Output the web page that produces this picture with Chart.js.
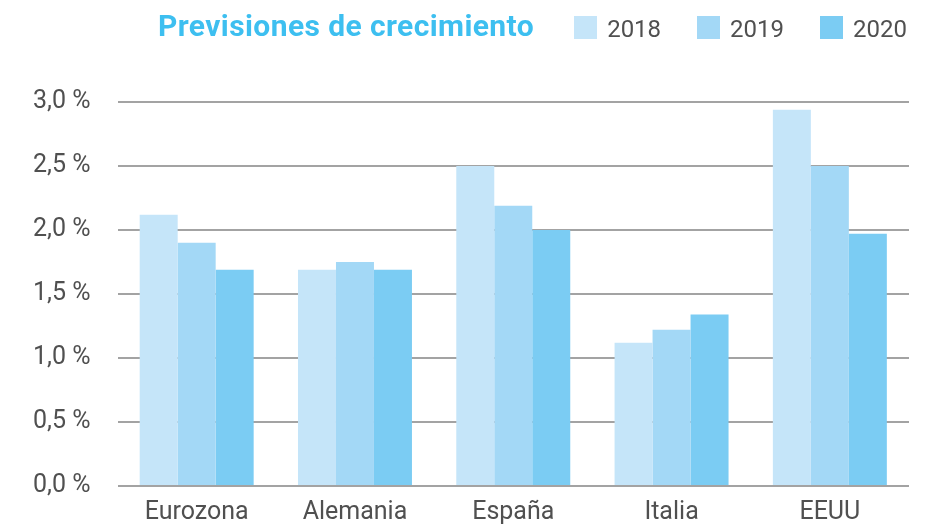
<!DOCTYPE html>
<html>
<head>
<meta charset="utf-8">
<script src="https://cdn.jsdelivr.net/npm/chart.js@4.4.1/dist/chart.umd.min.js"></script>
<style>
    body { margin: 0; background: #fff; font-family: Roboto, sans-serif; }
    #wrap { position: relative; width: 950px; height: 524px; overflow: hidden; }
    #holder { position: absolute; left: 0; top: 0; width: 950px; height: 540px; }
    #title {
        position: absolute; left: 158px; top: 11px;
        font-size: 30px; line-height: 30px; font-weight: 700;
        letter-spacing: 0.4px; color: #3dbff0;
    }
    #legend {
        position: absolute; right: 43px; top: 16px;
        display: flex; align-items: center;
    }
    .item { display: flex; align-items: center; margin-left: 36px; }
    .item:first-child { margin-left: 0; }
    .box { width: 23px; height: 23px; margin-right: 10px; }
    .lbl { font-size: 24px; line-height: 23px; color: #505050; position: relative; top: 2px; }
</style>
</head>
<body>
<div id="wrap">
    <div id="holder"><canvas id="myChart"></canvas></div>
    <div id="title">Previsiones de crecimiento</div>
    <div id="legend"></div>
</div>
<script>
const categories = ['Eurozona', 'Alemania', 'España', 'Italia', 'EEUU'];
const years = ['2018', '2019', '2020'];
const values2018 = [2.12, 1.69, 2.5, 1.12, 2.94];
const values2019 = [1.9, 1.75, 2.19, 1.22, 2.5];
const values2020 = [1.69, 1.69, 2.0, 1.34, 1.97];
const colors = ['#c5e5f9', '#a3d8f6', '#7bccf3'];

(() => {
    Chart.defaults.font.family = 'Roboto';
    Chart.defaults.color = '#505050';

    const series = [values2018, values2019, values2020];

    const legend = document.getElementById('legend');
    years.forEach((y, i) => {
        const item = document.createElement('div');
        item.className = 'item';
        item.innerHTML = '<div class="box" style="background:' + colors[i] + '"></div><span class="lbl">' + y + '</span>';
        legend.appendChild(item);
    });

    const ctx = document.getElementById('myChart');

    const config = {
        type: 'bar',
        data: {
            labels: categories,
            datasets: years.map((y, i) => ({
                label: y,
                data: series[i],
                backgroundColor: colors[i],
                borderWidth: 0,
                categoryPercentage: 0.72,
                barPercentage: 1.0
            }))
        },
        options: {
            responsive: true,
            maintainAspectRatio: false,
            animation: false,
            layout: {
                padding: {top: 102, left: 6, right: 41, bottom: 0}
            },
            plugins: {
                legend: {display: false},
                tooltip: {enabled: false}
            },
            scales: {
                x: {
                    grid: {display: false, drawTicks: false},
                    border: {display: false},
                    ticks: {
                        padding: 12,
                        font: {size: 25}
                    }
                },
                y: {
                    min: 0,
                    max: 3,
                    grid: {
                        color: '#a3a3a3',
                        lineWidth: 2,
                        drawTicks: false
                    },
                    border: {display: false},
                    ticks: {
                        stepSize: 0.5,
                        padding: 27,
                        font: {size: 25},
                        callback: v => v.toFixed(1).replace('.', ',') + ' %'
                    }
                }
            }
        }
    };

    new Chart(ctx, config);
})();
</script>
</body>
</html>
